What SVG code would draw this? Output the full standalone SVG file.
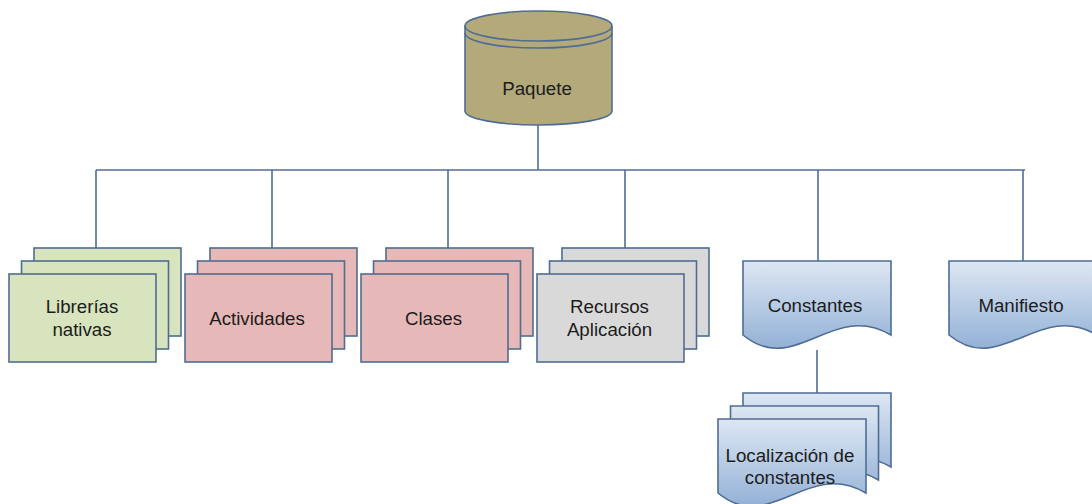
<svg xmlns="http://www.w3.org/2000/svg" width="1092" height="504" viewBox="0 0 1092 504">
  <defs>
    <linearGradient id="blueFill" x1="0" y1="0" x2="0" y2="1">
      <stop offset="0" stop-color="#dde7f3"/>
      <stop offset="1" stop-color="#93b1d6"/>
    </linearGradient>
    <!-- flowchart document shape with wavy bottom -->
    <path id="doc" d="M0,0 H148 V74 C89,39 52,117 0,74 Z"/>
  </defs>
  <style>
    .edge { fill: none; stroke: #4f6d93; stroke-width: 1.6; }
    .box { stroke: #4f6d93; stroke-width: 1.6; }
    .green { fill: #d7e4bd; }
    .pink { fill: #e6b8b7; }
    .grey { fill: #d9d9d9; }
    .blue { fill: url(#blueFill); stroke: #4f6d93; stroke-width: 1.6; }
    .tan { fill: #b3a97b; stroke: #4f6d93; stroke-width: 1.6; }
    text { font-family: "Liberation Sans", Arial, sans-serif; font-size: 18.7px; fill: #1c1c1c; text-anchor: middle; }
  </style>

  <g id="connectors">
    <path class="edge" d="M538,125 V170"/>
    <path class="edge" d="M96,170 H1025"/>
    <path class="edge" d="M96,170 V248"/>
    <path class="edge" d="M272,170 V248"/>
    <path class="edge" d="M448,170 V248"/>
    <path class="edge" d="M625,170 V248"/>
    <path class="edge" d="M818,170 V261"/>
    <path class="edge" d="M1023,170 V261"/>
    <path class="edge" d="M817,350 V393"/>
  </g>

  <g id="paquete">
    <path class="tan" d="M465,26 V111 A73.5,14 0 0 0 612,111 V26"/>
    <ellipse class="tan" cx="538.5" cy="26" rx="73.5" ry="15"/>
    <path class="edge" d="M465,33 A73.5,15 0 0 0 612,33"/>
    <text x="537" y="95">Paquete</text>
  </g>

  <g id="librerias">
    <rect class="box green" x="34" y="248" width="147" height="88"/>
    <rect class="box green" x="21.5" y="261" width="147" height="88"/>
    <rect class="box green" x="9" y="274" width="147" height="88"/>
    <text x="82" y="313">Librerías</text>
    <text x="82" y="335.5">nativas</text>
  </g>

  <g id="actividades">
    <rect class="box pink" x="210" y="248" width="147" height="88"/>
    <rect class="box pink" x="197.5" y="261" width="147" height="88"/>
    <rect class="box pink" x="185" y="274" width="147" height="88"/>
    <text x="257" y="325">Actividades</text>
  </g>

  <g id="clases">
    <rect class="box pink" x="386" y="248" width="147" height="88"/>
    <rect class="box pink" x="373.5" y="261" width="147" height="88"/>
    <rect class="box pink" x="361" y="274" width="147" height="88"/>
    <text x="433.5" y="325">Clases</text>
  </g>

  <g id="recursos">
    <rect class="box grey" x="562" y="248" width="147" height="88"/>
    <rect class="box grey" x="549.5" y="261" width="147" height="88"/>
    <rect class="box grey" x="537" y="274" width="147" height="88"/>
    <text x="609.5" y="312.5">Recursos</text>
    <text x="609.5" y="335.5">Aplicación</text>
  </g>

  <g id="constantes">
    <use href="#doc" class="blue" x="743" y="261"/>
    <text x="815" y="311.5">Constantes</text>
  </g>

  <g id="manifiesto">
    <use href="#doc" class="blue" x="949" y="261"/>
    <text x="1021" y="311.5">Manifiesto</text>
  </g>

  <g id="localizacion">
    <use href="#doc" class="blue" x="743" y="393"/>
    <use href="#doc" class="blue" x="730.5" y="406"/>
    <use href="#doc" class="blue" x="718" y="419"/>
    <text x="790" y="461.5">Localización de</text>
    <text x="790" y="484">constantes</text>
  </g>
</svg>
